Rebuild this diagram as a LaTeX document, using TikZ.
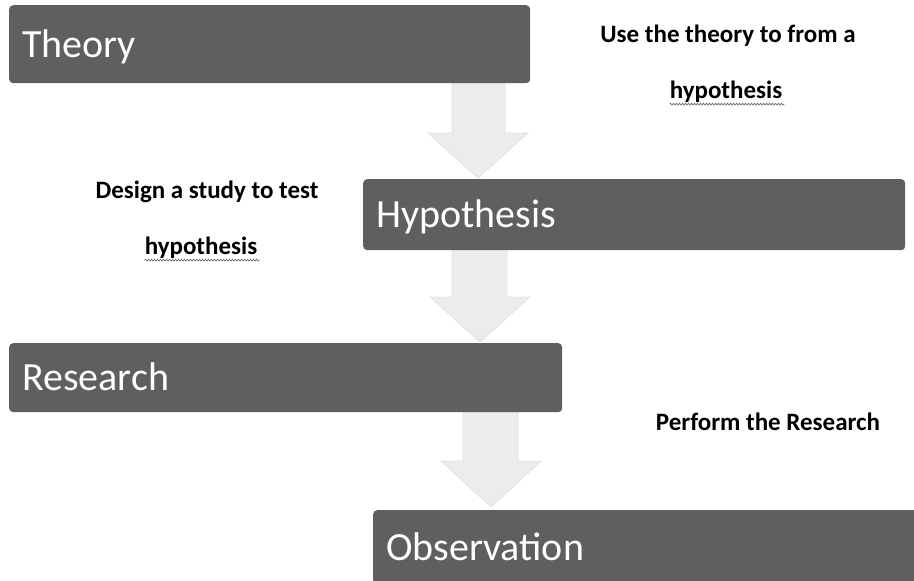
\documentclass[tikz,border=0pt]{standalone}
\usepackage{fontspec}
\setmainfont{Carlito}
\usetikzlibrary{decorations.pathmorphing}
\definecolor{boxgray}{RGB}{95,95,95}
\definecolor{arrowfill}{RGB}{236,236,236}
\definecolor{arrowline}{RGB}{226,226,226}
\definecolor{squiggle}{RGB}{110,110,110}
\tikzset{
  stagebox/.style={fill=boxgray, draw=none, rounded corners=4pt, anchor=north west,
    text=white, font=\fontsize{40}{48}\selectfont, inner xsep=13pt, inner ysep=0pt,
    text height=26pt, text depth=0pt, align=left},
  blockarrow/.style={fill=arrowfill, draw=arrowline, line width=0.8pt, line join=miter},
  note/.style={font=\bfseries\fontsize{25}{30}\selectfont, text=black, anchor=base, inner sep=0pt},
  wavy/.style={draw=squiggle, line width=0.7pt, decorate,
    decoration={snake, amplitude=0.9pt, segment length=3pt}}
}
\begin{document}
\begin{tikzpicture}[x=1pt,y=-1pt]
\useasboundingbox (0,0) rectangle (914,581);
% block arrows
\draw[blockarrow] (452,83) -- (505,83) -- (505,133) -- (528,133) -- (478,178) -- (428,133) -- (452,133) -- cycle;
\draw[blockarrow] (452,250) -- (507,250) -- (507,297) -- (530,297) -- (480,342) -- (430,297) -- (452,297) -- cycle;
\draw[blockarrow] (463,412) -- (518,412) -- (518,461) -- (541,461) -- (491,507) -- (441,461) -- (463,461) -- cycle;
% boxes
\node[stagebox, minimum width=521pt, minimum height=78pt, text width=495pt] (theory) at (9,5) {Theory};
\node[stagebox, minimum width=542pt, minimum height=71pt, text width=516pt] (hypo) at (363,179) {Hypothesis};
\node[stagebox, minimum width=553pt, minimum height=69pt, text width=527pt] (research) at (9,343) {Research};
\node[stagebox, minimum width=560pt, minimum height=74pt, text width=534pt] (obs) at (373,510) {Observation};
% notes
\node[note] (n1a) at (728,42) {Use the theory to from a};
\node[note] (n1b) at (726,98) {hypothesis};
\draw[wavy] (n1b.south west) ++(0,2) -- ++(115,0);
\node[note] (n2a) at (207,198) {Design a study to test};
\node[note] (n2b) at (201,254) {hypothesis};
\draw[wavy] (n2b.south west) ++(0,2) -- ++(115,0);
\node[note] (n3) at (768,430) {Perform the Research};
\end{tikzpicture}
\end{document}
